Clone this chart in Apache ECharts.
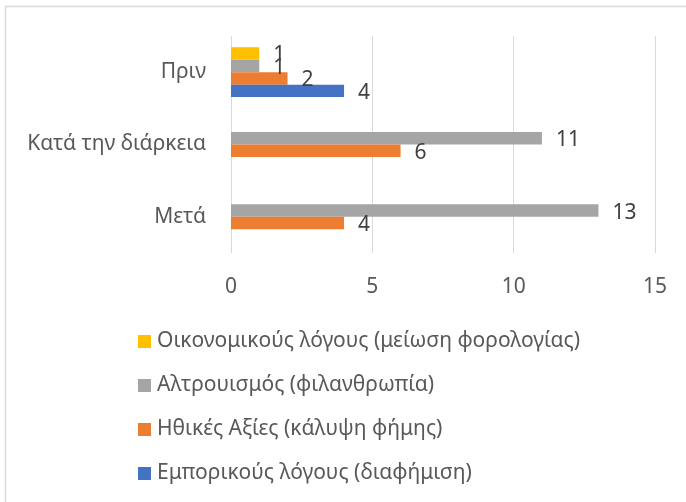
<!DOCTYPE html>
<html lang="el">
<head>
    <meta charset="UTF-8">
    <title>Bar chart</title>
    <script src="https://cdn.jsdelivr.net/npm/echarts@6/dist/echarts.min.js"></script>
    <style>
        html, body { margin: 0; padding: 0; background: #fff; }
        #main { width: 686px; height: 502px; }
    </style>
</head>
<body>
    <div id="main"></div>
    <script type="text/javascript">
        // data
        var categories = ['Πριν', 'Κατά την διάρκεια', 'Μετά'];
        var xTicks = [0, 5, 10, 15];
        var seriesNames = [
            'Εμπορικούς λόγους (διαφήμιση)',
            'Ηθικές Αξίες (κάλυψη φήμης)',
            'Αλτρουισμός (φιλανθρωπία)',
            'Οικονομικούς λόγους (μείωση φορολογίας)'
        ];
        var emporikoi = [4, null, null];
        var ithikes = [2, 6, 4];
        var altrouismos = [1, 11, 13];
        var oikonomikoi = [1, null, null];
        var colors = ['#4472c4', '#ed7d31', '#a5a5a5', '#ffc000'];

        var font = 'Noto Sans';
        var fs = 21;
        var values = [emporikoi, ithikes, altrouismos, oikonomikoi];

        // with an inverted category axis the first series sits on top,
        // so go from the last series (yellow) down to the first (blue)
        var series = [];
        for (var i = values.length - 1; i >= 0; i--) {
            series.push({
                name: seriesNames[i],
                type: 'bar',
                data: values[i],
                barGap: '0%',
                barCategoryGap: '31%',
                itemStyle: { color: colors[i] },
                label: {
                    show: true,
                    position: 'right',
                    distance: 14,
                    fontFamily: font,
                    fontSize: fs,
                    color: '#404040',
                    offset: [0, 2]
                }
            });
        }

        var myChart = echarts.init(document.getElementById('main'));
        var option = {
            animation: false,
            textStyle: { fontFamily: font },
            graphic: [{
                type: 'rect',
                shape: { x: 5.5, y: 6.5, width: 700, height: 520 },
                style: { fill: 'none', stroke: '#d9d9d9', lineWidth: 1.5 },
                silent: true
            }],
            grid: { left: 231, right: 31, top: 36, bottom: 249, containLabel: false },
            xAxis: {
                type: 'value',
                min: xTicks[0],
                max: xTicks[xTicks.length - 1],
                interval: 5,
                axisLine: { show: false },
                axisTick: { show: false },
                splitLine: { lineStyle: { color: '#d9d9d9', width: 1 } },
                axisLabel: { fontFamily: font, fontSize: fs, color: '#595959', margin: 24 }
            },
            yAxis: {
                type: 'category',
                data: categories,
                inverse: true,
                axisLine: { show: false },
                axisTick: { show: false },
                axisLabel: { fontFamily: font, fontSize: fs, color: '#595959', margin: 25 }
            },
            legend: {
                orient: 'vertical',
                left: 133,
                top: 326,
                itemWidth: 13,
                itemHeight: 13,
                itemGap: 23,
                icon: 'rect',
                data: seriesNames.slice().reverse(),
                textStyle: { fontFamily: font, fontSize: fs, color: '#595959', padding: [0, 0, 0, 1] }
            },
            series: series
        };
        myChart.setOption(option);
    </script>
</body>
</html>
